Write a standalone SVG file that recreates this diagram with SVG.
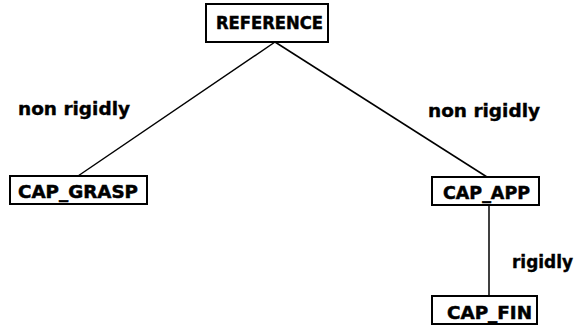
<svg xmlns="http://www.w3.org/2000/svg" width="580" height="332" viewBox="0 0 580 332">
<style>
.box{fill:#fff;stroke:#000;stroke-width:2}
.lbl{font-family:"DejaVu Sans",sans-serif;font-weight:bold;font-size:18px;fill:#000;stroke:#000;stroke-width:0.5}
.edge{font-family:"DejaVu Sans",sans-serif;font-weight:bold;font-size:18px;fill:#000;stroke:#000;stroke-width:0.4}
.conn{stroke:#000;stroke-width:1.5;fill:none}
</style>
<rect width="580" height="332" fill="#fff"/>
<g id="connectors">
<line class="conn" x1="275" y1="42" x2="78" y2="176"/>
<line class="conn" x1="275" y1="42" x2="487" y2="177"/>
<line class="conn" x1="489" y1="205" x2="489" y2="296"/>
<text class="edge" x="18" y="115" textLength="112" lengthAdjust="spacingAndGlyphs">non rigidly</text>
<text class="edge" x="428" y="117" textLength="112" lengthAdjust="spacingAndGlyphs">non rigidly</text>
<text class="edge" x="512" y="268" textLength="61" lengthAdjust="spacingAndGlyphs">rigidly</text>
</g>
<g id="REFERENCE">
<rect class="box" x="206" y="4" width="122" height="38"/>
<text class="lbl" x="216" y="29" textLength="107" lengthAdjust="spacingAndGlyphs">REFERENCE</text>
</g>
<g id="CAP_GRASP">
<rect class="box" x="10" y="176" width="137" height="28"/>
<text class="lbl" x="18" y="198" textLength="120" lengthAdjust="spacingAndGlyphs">CAP_GRASP</text>
</g>
<g id="CAP_APP">
<rect class="box" x="432" y="177" width="107" height="28"/>
<text class="lbl" x="443" y="199" textLength="87" lengthAdjust="spacingAndGlyphs">CAP_APP</text>
</g>
<g id="CAP_FIN">
<rect class="box" x="432" y="296" width="105" height="28"/>
<text class="lbl" x="447" y="319" textLength="85" lengthAdjust="spacingAndGlyphs">CAP_FIN</text>
</g>
</svg>
